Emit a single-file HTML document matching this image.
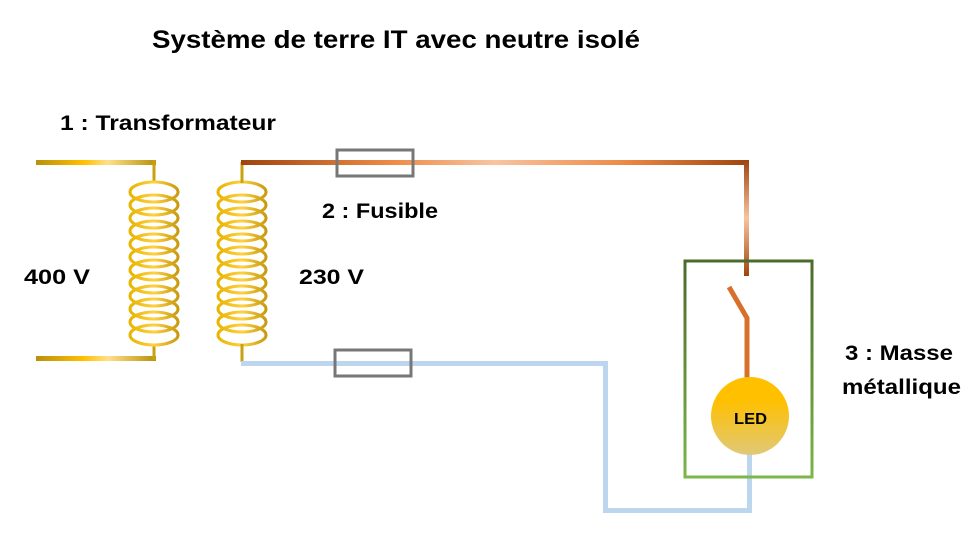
<!DOCTYPE html>
<html><head><meta charset="utf-8"><style>body{margin:0;background:#fff}svg{display:block}text{font-family:"Liberation Sans",sans-serif;font-weight:bold;fill:#000}</style></head><body>
<svg width="980" height="539" viewBox="0 0 980 539" xmlns="http://www.w3.org/2000/svg">
<defs>
<linearGradient id="gold" x1="0" x2="1"><stop offset="0" stop-color="#b8900a"/><stop offset="0.4" stop-color="#ffc000"/><stop offset="0.6" stop-color="#ffe08a"/><stop offset="1" stop-color="#b8900a"/></linearGradient>
<linearGradient id="cu" x1="0" x2="1"><stop offset="0" stop-color="#a0440e"/><stop offset="0.3" stop-color="#ee8b48"/><stop offset="0.5" stop-color="#f8c4a0"/><stop offset="0.75" stop-color="#ee8b48"/><stop offset="1" stop-color="#a0440e"/></linearGradient>
<linearGradient id="cuv" x1="0" y1="0" x2="0" y2="1"><stop offset="0" stop-color="#a0440e"/><stop offset="0.5" stop-color="#f8c4a0"/><stop offset="1" stop-color="#a0440e"/></linearGradient>
<linearGradient id="grn" x1="0" y1="0" x2="0" y2="1"><stop offset="0" stop-color="#4a6b2a"/><stop offset="1" stop-color="#7ab648"/></linearGradient>
<linearGradient id="led" x1="0" y1="0" x2="0" y2="1"><stop offset="0.3" stop-color="#ffc000"/><stop offset="1" stop-color="#e0c878"/></linearGradient>
<linearGradient id="coil" x1="0" x2="1"><stop offset="0" stop-color="#e8b400"/><stop offset="0.5" stop-color="#ffd040"/><stop offset="1" stop-color="#c89a10"/></linearGradient>
<g id="c" fill="none" stroke="url(#coil)" stroke-width="3">
<ellipse cx="0" cy="192" rx="24" ry="10"/><ellipse cx="0" cy="205" rx="24" ry="10"/><ellipse cx="0" cy="218" rx="24" ry="10"/><ellipse cx="0" cy="231" rx="24" ry="10"/><ellipse cx="0" cy="244" rx="24" ry="10"/><ellipse cx="0" cy="257" rx="24" ry="10"/><ellipse cx="0" cy="270" rx="24" ry="10"/><ellipse cx="0" cy="283" rx="24" ry="10"/><ellipse cx="0" cy="296" rx="24" ry="10"/><ellipse cx="0" cy="309" rx="24" ry="10"/><ellipse cx="0" cy="322" rx="24" ry="10"/><ellipse cx="0" cy="335" rx="24" ry="10"/>
</g>
</defs>
<text x="152" y="48" font-size="25" textLength="488" lengthAdjust="spacingAndGlyphs">Système de terre IT avec neutre isolé</text>
<text x="60" y="130" font-size="21" textLength="216" lengthAdjust="spacingAndGlyphs">1 : Transformateur</text>
<text x="322" y="218" font-size="21" textLength="116" lengthAdjust="spacingAndGlyphs">2 : Fusible</text>
<text x="24" y="284" font-size="21" textLength="66" lengthAdjust="spacingAndGlyphs">400 V</text>
<text x="299" y="284" font-size="21" textLength="65" lengthAdjust="spacingAndGlyphs">230 V</text>
<text x="845" y="360" font-size="21" textLength="108" lengthAdjust="spacingAndGlyphs">3 : Masse</text>
<text x="842" y="394" font-size="21" textLength="119" lengthAdjust="spacingAndGlyphs">métallique</text>
<rect x="36" y="160" width="120" height="5" fill="url(#gold)"/>
<rect x="36" y="356" width="120" height="5" fill="url(#gold)"/>
<line x1="154" y1="160" x2="154" y2="183" stroke="#c8a010" stroke-width="3"/>
<line x1="154" y1="344" x2="154" y2="360" stroke="#c8a010" stroke-width="3"/>
<use href="#c" x="154"/>
<use href="#c" x="242"/>
<line x1="242" y1="162" x2="242" y2="183" stroke="#c8a010" stroke-width="3"/>
<line x1="242" y1="344" x2="242" y2="362" stroke="#c8a010" stroke-width="3"/>
<rect x="241" y="160" width="507" height="5" fill="url(#cu)"/>
<rect x="744" y="160" width="5" height="116" fill="url(#cuv)"/>
<rect x="241" y="361" width="366" height="5" fill="#bcd6ee"/>
<rect x="603" y="361" width="5" height="152" fill="#bcd6ee"/>
<rect x="603" y="508" width="149" height="5" fill="#bcd6ee"/>
<rect x="747" y="452" width="5" height="60" fill="#bcd6ee"/>
<rect x="337" y="150" width="76" height="26" fill="none" stroke="#777" stroke-width="3"/>
<rect x="335" y="350" width="76" height="26" fill="none" stroke="#777" stroke-width="3"/>
<rect x="685" y="261" width="127" height="216" fill="none" stroke="url(#grn)" stroke-width="3"/>
<polyline points="729,287 747,318 747,380" fill="none" stroke="#d8702c" stroke-width="5"/>
<circle cx="750" cy="416" r="39" fill="url(#led)"/>
<text x="734" y="424" font-size="16" textLength="33" lengthAdjust="spacingAndGlyphs">LED</text>
</svg>
</body></html>
